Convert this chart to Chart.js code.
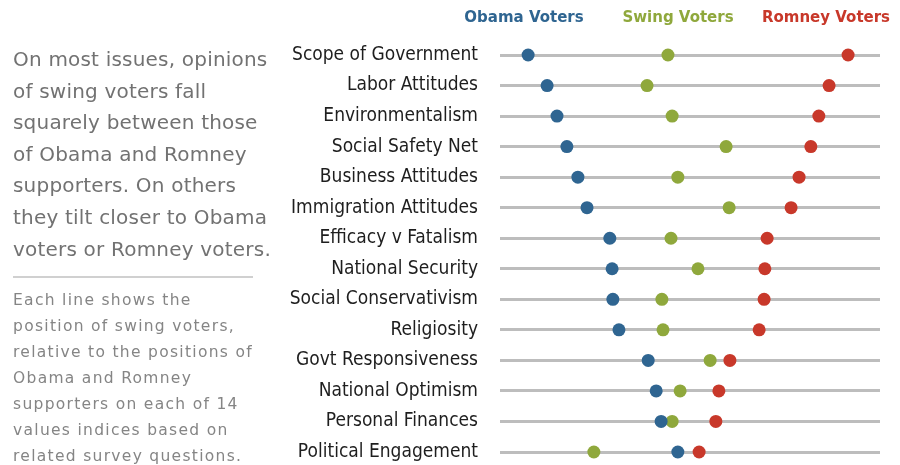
<!DOCTYPE html>
<html lang="en">
<head>
    <meta charset="UTF-8">
    <title>Swing Voters Values Indices</title>
    <script src="https://cdn.jsdelivr.net/npm/chart.js"></script>
    <style>
        body, html {
            margin: 0;
            padding: 0;
            width: 900px;
            height: 465px;
            overflow: hidden;
            background: #fff;
        }
        #wrap { position: relative; width: 900px; height: 465px; }
        #dotChart { position: absolute; left: 0; top: 0; }
        .intro {
            position: absolute;
            left: 13px;
            top: 44px;
            font-family: "DejaVu Sans", sans-serif;
            font-size: 20px;
            letter-spacing: 0.2px;
            line-height: 31.6px;
            color: #727272;
            white-space: nowrap;
        }
        .rule {
            position: absolute;
            left: 13px;
            top: 276px;
            width: 240px;
            height: 2px;
            background: #d0d0d0;
        }
        .note {
            position: absolute;
            left: 13px;
            top: 287px;
            font-family: "DejaVu Sans", sans-serif;
            font-size: 15.5px;
            letter-spacing: 1.3px;
            line-height: 26px;
            color: #858585;
            white-space: nowrap;
        }
    </style>
</head>
<body>
<div id="wrap">
    <canvas id="dotChart" width="900" height="465"></canvas>
    <div class="intro">On most issues, opinions<br>of swing voters fall<br>squarely between those<br>of Obama and Romney<br>supporters. On others<br>they tilt closer to Obama<br>voters or Romney voters.</div>
    <div class="rule"></div>
    <div class="note">Each line shows the<br>position of swing voters,<br>relative to the positions of<br>Obama and Romney<br>supporters on each of 14<br>values indices based on<br>related survey questions.</div>
</div>

<script>
    const issues = ["Scope of Government", "Labor Attitudes", "Environmentalism", "Social Safety Net",
        "Business Attitudes", "Immigration Attitudes", "Efficacy v Fatalism", "National Security",
        "Social Conservativism", "Religiosity", "Govt Responsiveness", "National Optimism",
        "Personal Finances", "Political Engagement"];
    const obamaVoters = [7.4, 12.4, 15.0, 17.6, 20.5, 22.9, 28.9, 29.5, 29.7, 31.3, 39.0, 41.1, 42.4, 46.8];
    const swingVoters = [44.2, 38.7, 45.3, 59.5, 46.8, 60.3, 45.0, 52.1, 42.6, 42.9, 55.3, 47.4, 45.3, 24.7];
    const romneyVoters = [91.6, 86.6, 83.9, 81.8, 78.7, 76.6, 70.3, 69.7, 69.5, 68.2, 60.5, 57.6, 56.8, 52.4];

    const colors = ['#2f6591', '#8fa83c', '#c8382a'];
    const legendX = [524, 678, 826];

    // legend drawn as coloured words above the dots
    const topLegend = {
        id: 'topLegend',
        afterDraw(chart) {
            const ctx = chart.ctx;
            ctx.save();
            ctx.font = 'bold 15px "DejaVu Sans", sans-serif';
            ctx.textAlign = 'center';
            ctx.textBaseline = 'middle';
            chart.data.datasets.forEach((ds, i) => {
                ctx.fillStyle = ds.backgroundColor;
                ctx.fillText(ds.label, legendX[i], 18);
            });
            ctx.restore();
        }
    };

    function dots(label, values, color) {
        return {
            label: label,
            data: values,
            showLine: false,
            backgroundColor: color,
            borderColor: color,
            pointRadius: 6.5,
            pointHoverRadius: 6.5,
            pointBorderWidth: 0,
            clip: false
        };
    }

    new Chart(document.getElementById('dotChart'), {
        type: 'line',
        data: {
            labels: issues,
            datasets: [
                dots('Obama Voters', obamaVoters, colors[0]),
                dots('Swing Voters', swingVoters, colors[1]),
                dots('Romney Voters', romneyVoters, colors[2])
            ]
        },
        options: {
            indexAxis: 'y',
            responsive: false,
            animation: false,
            layout: { padding: { left: 280, right: 20, top: 55, bottom: 13 } },
            scales: {
                x: { type: 'linear', min: 0, max: 100, display: false },
                y: {
                    type: 'category',
                    offset: false,
                    border: { display: false },
                    // gap between labels and lines comes from invisible tick marks,
                    // ticks.padding would also pad the bottom of the chart area
                    grid: { color: '#bdbdbd', lineWidth: 3, drawTicks: true, tickLength: 22, tickColor: 'rgba(0,0,0,0)' },
                    ticks: {
                        color: '#1e1e1e',
                        padding: 0,
                        font: { family: '"Liberation Sans Narrow", "DejaVu Sans Condensed", sans-serif', size: 19 }
                    },
                    afterFit(scale) { scale.width = 220; }
                }
            },
            plugins: {
                legend: { display: false },
                tooltip: { enabled: false }
            }
        },
        plugins: [topLegend]
    });
</script>
</body>
</html>
